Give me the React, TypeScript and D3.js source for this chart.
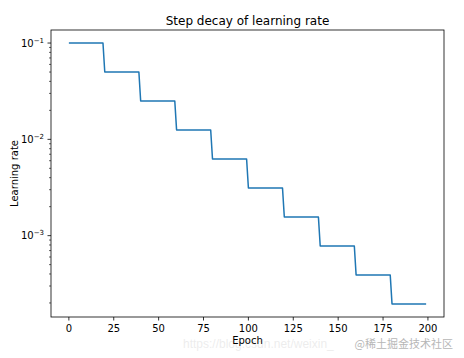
import React from "react";
import * as d3 from "d3";

const stepStart = [0, 20, 40, 60, 80, 100, 120, 140, 160, 180];
const stepEnd = [19, 39, 59, 79, 99, 119, 139, 159, 179, 199];
const learningRate = [0.1, 0.05, 0.025, 0.0125, 0.00625, 0.003125, 0.0015625, 0.00078125, 0.000390625, 0.0001953125];
const xTicks = [0, 25, 50, 75, 100, 125, 150, 175, 200];
const yMajorExp = [-1, -2, -3];
const title = "Step decay of learning rate";
const xLabel = "Epoch";
const yLabel = "Learning rate";

const W = 464, H = 358;
const L = 51, R = 444, T = 30, B = 317;

export default function App() {
  const pts: [number, number][] = [];
  stepStart.forEach((s, i) => {
    pts.push([s, learningRate[i]]);
    pts.push([stepEnd[i], learningRate[i]]);
  });
  const xMin = d3.min(pts, (p) => p[0])!;
  const xMax = d3.max(pts, (p) => p[0])!;
  const xm = (xMax - xMin) * 0.05;
  const x = d3.scaleLinear().domain([xMin - xm, xMax + xm]).range([L, R]);
  const lyMin = Math.log10(d3.min(learningRate)!);
  const lyMax = Math.log10(d3.max(learningRate)!);
  const lm = (lyMax - lyMin) * 0.05;
  const y = d3.scaleLog().domain([Math.pow(10, lyMin - lm), Math.pow(10, lyMax + lm)]).range([B, T]);
  const line = d3.line<[number, number]>().x((d) => x(d[0])).y((d) => y(d[1]));

  const minor: number[] = [];
  for (let e = -5; e <= 0; e++) {
    for (let k = 2; k <= 9; k++) {
      const v = k * Math.pow(10, e);
      const py = y(v);
      if (py >= T && py <= B) minor.push(v);
    }
  }
  const font = "DejaVu Sans, sans-serif";
  return (
    <svg width={W} height={H} style={{ position: "absolute", left: 0, top: 0 }} fontFamily={font}>
      <rect x={0} y={0} width={W} height={H} fill="#ffffff" />
      <text x={(L + R) / 2} y={25} textAnchor="middle" fontSize={12} fill="#000">{title}</text>
      <path d={line(pts)!} fill="none" stroke="#1f77b4" strokeWidth={1.5} strokeLinejoin="round" />
      <rect x={L} y={T} width={R - L} height={B - T} fill="none" stroke="#000" strokeWidth={0.8} />
      {xTicks.map((t) => (
        <g key={t}>
          <line x1={x(t)} x2={x(t)} y1={B} y2={B + 3.5} stroke="#000" strokeWidth={0.8} />
          <text x={x(t)} y={332} textAnchor="middle" fontSize={10} fill="#000">{t}</text>
        </g>
      ))}
      {yMajorExp.map((e) => (
        <g key={e}>
          <line x1={L - 3.5} x2={L} y1={y(Math.pow(10, e))} y2={y(Math.pow(10, e))} stroke="#000" strokeWidth={0.8} />
          <text x={L - 7} y={y(Math.pow(10, e)) + 3.5} textAnchor="end" fontSize={10} fill="#000">
            10<tspan fontSize={7} dy={-4}>{"\u2212" + Math.abs(e)}</tspan>
          </text>
        </g>
      ))}
      {minor.map((v, i) => (
        <line key={i} x1={L - 2} x2={L} y1={y(v)} y2={y(v)} stroke="#000" strokeWidth={0.6} />
      ))}
      <text x={(L + R) / 2} y={344} textAnchor="middle" fontSize={10} fill="#000">{xLabel}</text>
      <text transform={`translate(18,${(T + B) / 2}) rotate(-90)`} textAnchor="middle" fontSize={10} fill="#000">{yLabel}</text>
      <text x={183} y={348} fontSize={12} fill="#000" opacity={0.07} fontFamily="Liberation Sans, sans-serif">https://blog.csdn.net/weixin_</text>
      <text x={453} y={348} textAnchor="end" fontSize={11} fill="#999" opacity={0.7} fontFamily="Noto Sans CJK SC, sans-serif">@稀土掘金技术社区</text>
    </svg>
  );
}
